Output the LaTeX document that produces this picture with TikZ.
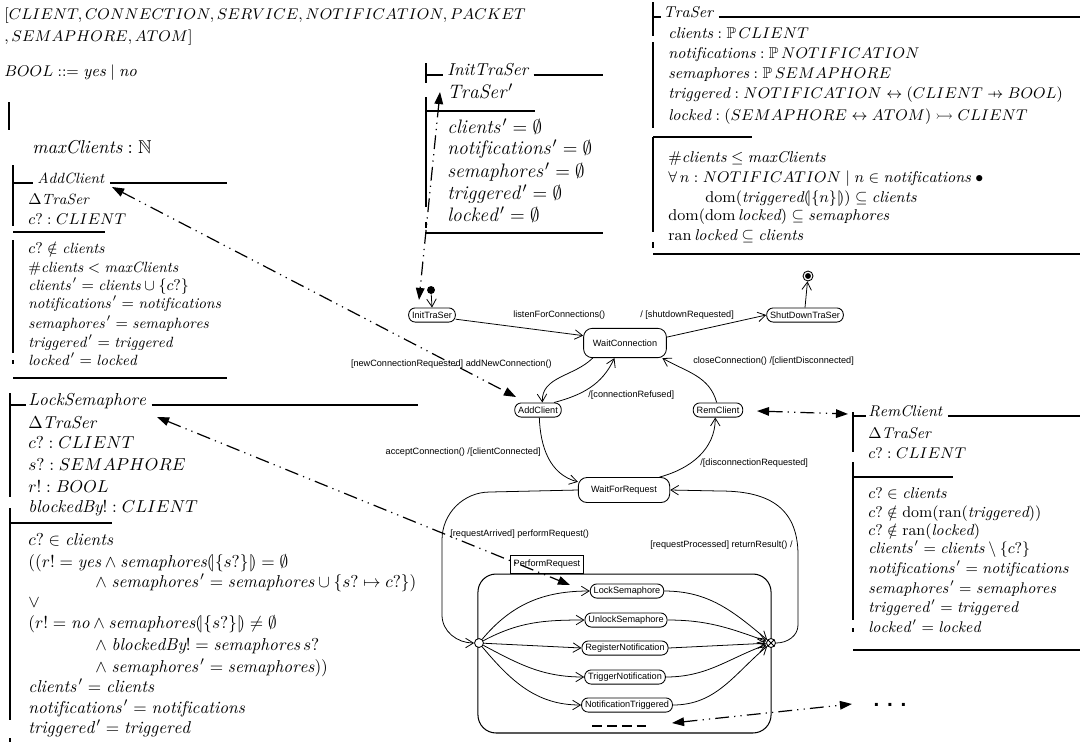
\documentclass[tikz,border=0pt]{standalone}
\usepackage{amsmath,amssymb}
\usepackage{fontspec}
\newfontfamily\umlfont{Liberation Sans}
\usetikzlibrary{arrows.meta}
\newcommand\zpfun{\mathrel{\ooalign{\hfil$\mapstochar\mkern5mu$\hfil\cr$\rightarrow$\cr}}}
\newcommand\zlimg{\mathopen{(\mkern-3.5mu|}}
\newcommand\zrimg{\mathclose{|\mkern-3.5mu)}}
\newcommand\zi[1]{\mathit{#1}}
\newcommand\zpr{\mkern2mu{}'}
\tikzset{
  zt/.style={anchor=base west, inner sep=0pt},
  zG/.style={zt, font=\fontsize{9.4}{11}\selectfont},
  zM/.style={zt, font=\fontsize{10.8}{13}\selectfont},
  zI/.style={zt, font=\fontsize{11.3}{13}\selectfont},
  zIh/.style={zt, font=\fontsize{10}{12}\selectfont},
  zT/.style={zt, font=\fontsize{9.1}{11}\selectfont},
  zA/.style={zt, font=\fontsize{8.6}{10}\selectfont},
  zL/.style={zt, font=\fontsize{10}{12}\selectfont},
  zR/.style={zt, font=\fontsize{9}{11}\selectfont},
  zrule/.style={line width=0.6pt},
  st/.style={draw, rounded corners=3.8pt, font=\umlfont\fontsize{5.3}{6}\selectfont, inner xsep=2pt, inner ysep=0pt, minimum height=8.2pt, line width=0.5pt, fill=white},
  bigst/.style={st, rounded corners=5pt},
  lbl/.style={font=\umlfont\fontsize{5.3}{6}\selectfont, inner sep=0pt},
  tr/.style={draw, line width=0.45pt, -{Straight Barb[length=4.5pt,width=5.5pt]}},
  lk/.style={draw, line width=0.7pt, {Triangle[length=7pt,width=5pt]}-{Triangle[length=7pt,width=5pt]}, dash pattern=on 8pt off 3pt on 0.7pt off 3pt on 0.7pt off 3pt},
}
\begin{document}
\begin{tikzpicture}[x=0.58pt, y=0.58pt]
\fill[white] (0,0) rectangle (1080,-745);
\useasboundingbox (0,0) rectangle (1080,-745);

% ---------- given sets, free type, axdef
\node[zG] (given1) at (4,-19) {$[CLIENT, CONNECTION, SERVICE, NOTIFICATION, PACKET$};
\node[zG] (given2) at (4,-41) {$, SEMAPHORE, ATOM]$};
\node[zG] (booldef) at (4,-76) {$BOOL \mathrel{::=} \zi{yes} \mid \zi{no}$};
\draw[zrule] (9,-102) -- (9,-130);
\node[zM] (maxcl) at (32,-153) {$\zi{maxClients} : \mathbb{N}$};

% ---------- InitTraSer schema
\draw[zrule] (426,-63) -- (426,-83) (426,-97) -- (426,-207) (426,-222) -- (426,-228);
\draw[zrule] (426,-75) -- (443,-75);
\node[zIh] (hInit) at (447,-75) {$\zi{InitTraSer}$};
\draw[zrule] ([xshift=3pt]hInit.base east) -- (603,-75);
\node[zI] (i1) at (447,-98) {$\zi{TraSer}\zpr$};
\draw[zrule] (426,-111) -- (535,-111);
\node[zI] (i2) at (447,-133) {$\zi{clients}\zpr = \emptyset$};
\node[zI] (i3) at (447,-154) {$\zi{notifications}\zpr = \emptyset$};
\node[zI] (i4) at (447,-177) {$\zi{semaphores}\zpr = \emptyset$};
\node[zI] (i5) at (447,-199) {$\zi{triggered}\zpr = \emptyset$};
\node[zI] (i6) at (447,-221) {$\zi{locked}\zpr = \emptyset$};
\draw[zrule] (426,-233) -- (603,-233);

% ---------- TraSer schema
\draw[zrule] (653,-2) -- (653,-36) (653,-42) -- (653,-128) (653,-137) -- (653,-232) (653,-242) -- (653,-248);
\draw[zrule] (653,-17) -- (661,-17);
\node[zT] (hTra) at (663,-17) {$\zi{TraSer}$};
\draw[zrule] ([xshift=3pt]hTra.base east) -- (1080,-17);
\node[zT] (t1) at (668,-38) {$\zi{clients} : \mathbb{P}\,CLIENT$};
\node[zT] (t2) at (668,-58) {$\zi{notifications} : \mathbb{P}\,NOTIFICATION$};
\node[zT] (t3) at (668,-78) {$\zi{semaphores} : \mathbb{P}\,SEMAPHORE$};
\node[zT] (t4) at (668,-98) {$\zi{triggered} : NOTIFICATION \leftrightarrow (CLIENT \zpfun BOOL)$};
\node[zT] (t5) at (668,-120) {$\zi{locked} : (SEMAPHORE \leftrightarrow ATOM) \rightarrowtail CLIENT$};
\draw[zrule] (653,-137) -- (752,-137);
\node[zT] (t6) at (668,-162) {$\#\zi{clients} \leq \zi{maxClients}$};
\node[zT] (t7) at (668,-182) {$\forall\, n : NOTIFICATION \mid n \in \zi{notifications} \;\bullet$};
\node[zT] (t8) at (705,-202) {$\mathrm{dom}(\zi{triggered}\zlimg\{n\}\zrimg) \subseteq \zi{clients}$};
\node[zT] (t9) at (668,-220) {$\mathrm{dom}(\mathrm{dom}\,\zi{locked}) \subseteq \zi{semaphores}$};
\node[zT] (t10) at (668,-240) {$\mathrm{ran}\,\zi{locked} \subseteq \zi{clients}$};
\draw[zrule] (653,-254) -- (1080,-254);

% ---------- AddClient schema
\draw[zrule] (13,-165) -- (13,-226) (13,-240) -- (13,-353) (13,-360) -- (13,-364);
\draw[zrule] (13,-183) -- (33,-183);
\node[zA] (hAdd) at (37,-183) {$\zi{AddClient}$};
\draw[zrule] ([xshift=3pt]hAdd.base east) -- (227,-183);
\node[zA] (a1) at (28,-204) {$\Delta\zi{TraSer}$};
\node[zA] (a2) at (28,-224) {$c? : CLIENT$};
\draw[zrule] (13,-232) -- (105,-232);
\node[zA] (a3) at (28,-253) {$c? \notin \zi{clients}$};
\node[zA] (a4) at (28,-272) {$\#\zi{clients} < \zi{maxClients}$};
\node[zA] (a5) at (28,-290) {$\zi{clients}\zpr = \zi{clients} \cup \{c?\}$};
\node[zA] (a6) at (28,-308) {$\zi{notifications}\zpr = \zi{notifications}$};
\node[zA] (a7) at (28,-328) {$\zi{semaphores}\zpr = \zi{semaphores}$};
\node[zA] (a8) at (28,-347) {$\zi{triggered}\zpr = \zi{triggered}$};
\node[zA] (a9) at (28,-365) {$\zi{locked}\zpr = \zi{locked}$};
\draw[zrule] (13,-378) -- (227,-378);

% ---------- LockSemaphore schema
\draw[zrule] (10,-393) -- (10,-497) (10,-508) -- (10,-720) (10,-738) -- (10,-742);
\draw[zrule] (10,-405) -- (26,-405);
\node[zL] (hLock) at (28,-405) {$\zi{LockSemaphore}$};
\draw[zrule] ([xshift=3pt]hLock.base east) -- (418,-405);
\node[zL] (l1) at (28,-428) {$\Delta\zi{TraSer}$};
\node[zL] (l2) at (28,-448) {$c? : CLIENT$};
\node[zL] (l3) at (28,-470) {$s? : SEMAPHORE$};
\node[zL] (l4) at (28,-492) {$r! : BOOL$};
\node[zL] (l5) at (28,-512) {$\zi{blockedBy}! : CLIENT$};
\draw[zrule] (10,-523) -- (112,-523);
\node[zL] (l6) at (28,-545) {$c? \in \zi{clients}$};
\node[zL] (l7) at (28,-567) {$((r! = \zi{yes} \land \zi{semaphores}\zlimg\{s?\}\zrimg = \emptyset$};
\node[zL] (l8) at (95,-587) {$\land\; \zi{semaphores}\zpr = \zi{semaphores} \cup \{s? \mapsto c?\})$};
\node[zL] (l9) at (28,-607) {$\lor$};
\node[zL] (l10) at (28,-628) {$(r! = \zi{no} \land \zi{semaphores}\zlimg\{s?\}\zrimg \neq \emptyset$};
\node[zL] (l11) at (95,-650) {$\land\; \zi{blockedBy}! = \zi{semaphores}\,s?$};
\node[zL] (l12) at (95,-672) {$\land\; \zi{semaphores}\zpr = \zi{semaphores}))$};
\node[zL] (l13) at (28,-692) {$\zi{clients}\zpr = \zi{clients}$};
\node[zL] (l14) at (28,-713) {$\zi{notifications}\zpr = \zi{notifications}$};
\node[zL] (l15) at (28,-733) {$\zi{triggered}\zpr = \zi{triggered}$};

% ---------- RemClient schema
\draw[zrule] (853,-412) -- (853,-452) (853,-462) -- (853,-620) (853,-628) -- (853,-632);
\draw[zrule] (853,-416) -- (866,-416);
\node[zR] (hRem) at (868,-416) {$\zi{RemClient}$};
\draw[zrule] ([xshift=3pt]hRem.base east) -- (1080,-416);
\node[zR] (r1) at (868,-438) {$\Delta\zi{TraSer}$};
\node[zR] (r2) at (868,-458) {$c? : CLIENT$};
\draw[zrule] (853,-477) -- (953,-477);
\node[zR] (r3) at (868,-498) {$c? \in \zi{clients}$};
\node[zR] (r4) at (868,-517) {$c? \notin \mathrm{dom}(\mathrm{ran}(\zi{triggered}))$};
\node[zR] (r5) at (868,-535) {$c? \notin \mathrm{ran}(\zi{locked})$};
\node[zR] (r6) at (868,-553) {$\zi{clients}\zpr = \zi{clients} \setminus \{c?\}$};
\node[zR] (r7) at (868,-573) {$\zi{notifications}\zpr = \zi{notifications}$};
\node[zR] (r8) at (868,-593) {$\zi{semaphores}\zpr = \zi{semaphores}$};
\node[zR] (r9) at (868,-612) {$\zi{triggered}\zpr = \zi{triggered}$};
\node[zR] (r10) at (868,-632) {$\zi{locked}\zpr = \zi{locked}$};
\draw[zrule] (853,-650) -- (1080,-650);

% ---------- state machine
\node (ini) [circle, fill, inner sep=0pt, minimum size=4.6pt] at (431,-290) {};
\node (fin) [circle, draw, inner sep=0pt, minimum size=5.8pt, line width=0.5pt] at (808,-276) {};
\fill (fin.center) circle (1.7pt);
\node[st] (sInit) at (432,-315) {InitTraSer};
\node[st] (sShut) at (805,-315) {ShutDownTraSer};
\node[bigst, minimum width=48pt, minimum height=17pt] (sWC) at (625,-343) {WaitConnection};
\node[st] (sAdd) at (538,-410) {AddClient};
\node[st] (sRem) at (718,-410) {RemClient};
\node[bigst, minimum width=53pt, minimum height=14.5pt] (sWFR) at (624,-490) {WaitForRequest};

\node (comp) [draw, rounded corners=10.5pt, minimum width=170pt, minimum height=92.2pt, line width=0.6pt] at (624.5,-653.5) {};
\node (perf) [draw, font=\umlfont\fontsize{5.3}{6}\selectfont, minimum width=42pt, minimum height=10.4pt, inner sep=0pt, line width=0.5pt, fill=white] at (547,-564) {PerformRequest};
\node (entry) [circle, draw, fill=white, minimum size=5.2pt, inner sep=0pt, line width=0.5pt] at (479,-643) {};
\node (exit) [circle, draw, fill=white, minimum size=5.2pt, inner sep=0pt, line width=0.5pt] at (771,-643) {};
\draw[line width=0.45pt] (exit.45) -- (exit.225) (exit.135) -- (exit.315);

\node[st] (sLock) at (627,-591) {LockSemaphore};
\node[st] (sUnlock) at (626,-620) {UnlockSemaphore};
\node[st] (sReg) at (625,-648) {RegisterNotification};
\node[st] (sTrig) at (625,-677) {TriggerNotification};
\node[st] (sNT) at (627,-705) {NotificationTriggered};
\node (dsh) [minimum width=33pt, minimum height=2pt, inner sep=0pt] at (621,-726) {};
\draw[line width=1.1pt, dash pattern=on 5.6pt off 3pt] (dsh.west) -- (dsh.east);
\node (more) [font=\umlfont\bfseries\fontsize{12}{12}\selectfont, inner sep=0pt] at (890,-705) {. . .};

% transitions
\draw[tr] (ini) -- (sInit.north);
\draw[tr] (sInit.-10) -- (sWC.170);
\draw[tr] (sWC.8) -- (sShut.west);
\draw[tr] (sShut.north) -- (fin);
\draw[tr] (sWC.205) to[out=225,in=92] (sAdd.60);
\draw[tr] (sAdd.25) to[out=15,in=245] (sWC.235);
\draw[tr] (sAdd.-80) to[out=-88,in=165] (sWFR.170);
\draw[tr] (sWFR.20) to[out=15,in=-90] (sRem.250);
\draw[tr] (sRem.100) to[out=105,in=-30] (sWC.-22);
\draw[tr] (sWFR.west) -- (490,-492) to[out=180,in=90] (442,-540) -- (442,-615) to[out=-90,in=180] (entry.west);
\draw[tr] (exit.east) to[out=0,in=-90] (798,-625) -- (798,-555) .. controls (798,-505) and (765,-491) .. (720,-491) -- (sWFR.east);

\draw[tr] (entry) to[out=50,in=180] (sLock.west);
\draw[tr] (entry) to[out=28,in=180] (sUnlock.west);
\draw[tr] (entry) -- (sReg.west);
\draw[tr] (entry) to[out=-28,in=180] (sTrig.west);
\draw[tr] (entry) to[out=-50,in=180] (sNT.west);
\draw[tr] (sLock.east) to[out=0,in=140] (exit);
\draw[tr] (sUnlock.east) to[out=0,in=160] (exit);
\draw[tr] (sReg.east) -- (exit);
\draw[tr] (sTrig.east) to[out=0,in=200] (exit);
\draw[tr] (sNT.east) to[out=0,in=220] (exit);

% labels
\node[lbl, anchor=west] (lb1) at (513,-315) {listenForConnections()};
\node[lbl, anchor=west] (lb2) at (640,-315) {/ [shutdownRequested]};
\node[lbl, anchor=east] (lb3) at (552,-364) {[newConnectionRequested] addNewConnection()};
\node[lbl, anchor=west] (lb4) at (588,-395) {/[connectionRefused]};
\node[lbl, anchor=west] (lb5) at (693,-361) {closeConnection() /[clientDisconnected]};
\node[lbl, anchor=east] (lb6) at (541,-452) {acceptConnection() /[clientConnected]};
\node[lbl, anchor=west] (lb7) at (700,-463) {/[disconnectionRequested]};
\node[lbl, anchor=west] (lb8) at (450,-534) {[requestArrived] performRequest()};
\node[lbl, anchor=west] (lb9) at (650,-545) {[requestProcessed] returnResult() /};

% dash-dotted links
\coordinate (kInitA) at (440,-92);
\coordinate (kInitB) at (419,-300);
\draw[lk] (kInitA) -- (kInitB);
\coordinate (kAddA) at (112,-187);
\coordinate (kAddB) at (516,-397);
\draw[lk] (kAddA) -- (kAddB);
\coordinate (kLockA) at (157,-417);
\coordinate (kLockB) at (570,-585);
\draw[lk] (kLockA) -- (kLockB);
\coordinate (kRemA) at (757,-411);
\coordinate (kRemB) at (848,-414);
\draw[lk] (kRemA) -- (kRemB);
\coordinate (kMoreA) at (672,-723);
\coordinate (kMoreB) at (852,-704);
\draw[lk] (kMoreA) -- (kMoreB);
\end{tikzpicture}
\end{document}
